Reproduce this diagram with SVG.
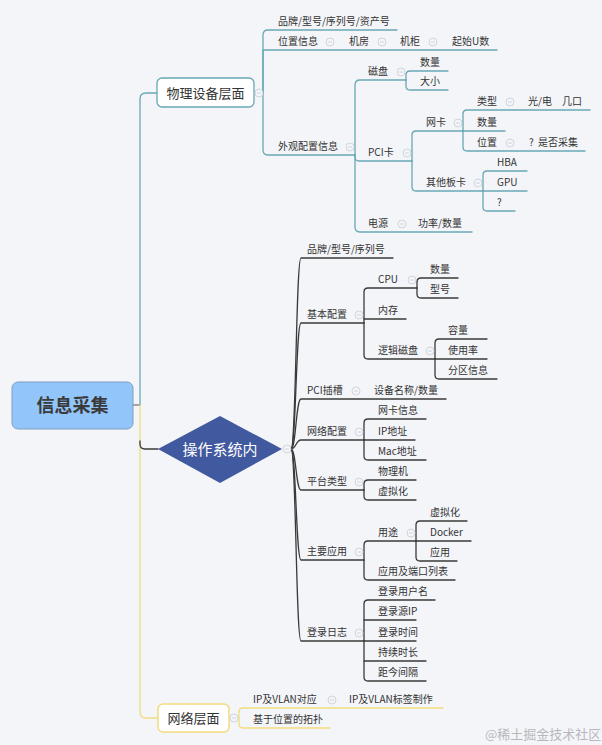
<svg xmlns="http://www.w3.org/2000/svg" xmlns:xlink="http://www.w3.org/1999/xlink" width="602" height="745" viewBox="0 0 602 745">
<defs>
<style>
.t{font-family:"Noto Sans CJK SC","Microsoft YaHei",sans-serif;font-size:10px;fill:#333}
.c{fill:none;stroke-width:1.3;stroke-linecap:round;stroke-linejoin:round}
.teal{stroke:#67a8b5}
.dark{stroke:#3a3a3a}
.yel{stroke:#f1dc7e}
.col circle{fill:#f4f5f9;stroke:#c7ccd6;stroke-width:0.8}
.col path{stroke:#c7ccd6;stroke-width:0.8}
</style>
<g id="cm" class="col"><circle cx="0" cy="0" r="4"/><path d="M-2,0H2"/></g>
</defs>
<rect width="602" height="745" fill="#f4f5f9"/>

<g id="connectors">
<path class="c" stroke="#888" d="M133,405H140"/>
<path class="c teal" d="M140,405V99Q140,93 146,93H157"/>
<path class="c yel" d="M140,405V712Q140,718 146,718H158"/>
<path class="c dark" d="M140,441V444Q140,449 145,449H158"/>
<!-- physical -->
<g class="c teal">
<path d="M263,93V35Q263,30 268,30H397"/>
<path d="M263,93V50H497"/>
<path d="M263,93V150Q263,155 268,155H355"/>
<path d="M355,155V85Q355,80 360,80H406"/>
<path d="M355,155V157Q355,161 359,161H412"/>
<path d="M355,155V227Q355,232 360,232H472"/>
<path d="M406,80V75Q406,71 410,71H448"/>
<path d="M406,80V86Q406,90 410,90H448"/>
<path d="M412,161V135Q412,131 416,131H463"/>
<path d="M412,161V187Q412,191 416,191H483"/>
<path d="M463,131V114Q463,110 467,110H590"/>
<path d="M463,131H505"/>
<path d="M463,131V147Q463,151 467,151H585"/>
<path d="M483,191V175Q483,171 487,171H527"/>
<path d="M483,191H527"/>
<path d="M483,191V207Q483,211 487,211H515"/>
</g>
<!-- os -->
<g class="c dark">
<path d="M291,449C296,449 296,258 301,258H393"/>
<path d="M291,449C296,449 296,323 301,323H364"/>
<path d="M291,449C296,449 296,399 301,399H446"/>
<path d="M291,449C296,449 296,440 301,440H364"/>
<path d="M291,449C296,449 296,490 301,490H364"/>
<path d="M291,449C296,449 296,560 301,560H364"/>
<path d="M291,449C296,449 296,641 301,641H364"/>
<path d="M364,323V292Q364,288 368,288H417"/>
<path d="M364,319H406"/>
<path d="M364,323V355Q364,359 368,359H435"/>
<path d="M417,288V282Q417,278 421,278H458"/>
<path d="M417,288V294Q417,298 421,298H458"/>
<path d="M435,359V343Q435,339 439,339H487"/>
<path d="M435,359H487"/>
<path d="M435,359V375Q435,379 439,379H497"/>
<path d="M364,440V423Q364,419 368,419H426"/>
<path d="M364,440H415"/>
<path d="M364,440V456Q364,460 368,460H426"/>
<path d="M364,490V484Q364,480 368,480H416"/>
<path d="M364,490V496Q364,500 368,500H416"/>
<path d="M364,560V545Q364,541 368,541H416"/>
<path d="M364,560V576Q364,580 368,580H455"/>
<path d="M416,541V525Q416,521 420,521H467"/>
<path d="M416,541H471"/>
<path d="M416,541V557Q416,561 420,561H457"/>
<path d="M364,641V604Q364,600 368,600H435"/>
<path d="M364,620H416"/>
<path d="M364,641H416"/>
<path d="M364,661H426"/>
<path d="M364,641V677Q364,681 368,681H426"/>
</g>
<!-- network -->
<g class="c yel">
<path d="M239,718V712Q239,708 243,708H443"/>
<path d="M239,718V724Q239,728 243,728H330"/>
</g>
</g>

<g id="root">
<rect x="12" y="382" width="121" height="47" rx="6" fill="#92c5f9" stroke="#7f9fc2" stroke-width="1"/>
<text x="72.5" y="412" text-anchor="middle" class="t" style="font-size:18px;font-weight:bold;fill:#3a3a3a">信息采集</text>
</g>

<g id="physical">
<rect x="157" y="78" width="97" height="29" rx="5" fill="#ffffff" stroke="#67a8b5" stroke-width="1.3"/>
<text x="205.5" y="98" text-anchor="middle" class="t" style="font-size:13px">物理设备层面</text>
<use href="#cm" x="259" y="93"/>
</g>
<g id="p-brand"><text x="278" y="25" class="t">品牌/型号/序列号/资产号</text></g>
<g id="p-loc"><text x="278" y="45" class="t">位置信息</text><use href="#cm" x="330" y="42"/></g>
<g id="p-room"><text x="349" y="45" class="t">机房</text><use href="#cm" x="382" y="42"/></g>
<g id="p-rack"><text x="400" y="45" class="t">机柜</text><use href="#cm" x="433" y="42"/></g>
<g id="p-u"><text x="452" y="45" class="t">起始U数</text></g>
<g id="p-look"><text x="278" y="150" class="t">外观配置信息</text><use href="#cm" x="350" y="147"/></g>
<g id="p-disk"><text x="368" y="75" class="t">磁盘</text><use href="#cm" x="401" y="72"/></g>
<g id="p-disk-n"><text x="420" y="66" class="t">数量</text></g>
<g id="p-disk-s"><text x="420" y="85" class="t">大小</text></g>
<g id="p-pci"><text x="368" y="156" class="t">PCI卡</text><use href="#cm" x="407" y="153"/></g>
<g id="p-nic"><text x="426" y="126" class="t">网卡</text><use href="#cm" x="458" y="123"/></g>
<g id="p-nic-type"><text x="477" y="105" class="t">类型</text><use href="#cm" x="510" y="102"/></g>
<g id="p-nic-type-v"><text x="528" y="105" class="t">光/电</text><text x="562" y="105" class="t">几口</text></g>
<g id="p-nic-n"><text x="477" y="126" class="t">数量</text></g>
<g id="p-nic-pos"><text x="477" y="146" class="t">位置</text><use href="#cm" x="510" y="143"/></g>
<g id="p-nic-pos-v"><text x="529" y="146" class="t">?</text><text x="538" y="146" class="t">是否采集</text></g>
<g id="p-other"><text x="426" y="186" class="t">其他板卡</text><use href="#cm" x="478" y="183"/></g>
<g id="p-hba"><text x="497" y="166" class="t">HBA</text></g>
<g id="p-gpu"><text x="497" y="186" class="t">GPU</text></g>
<g id="p-q"><text x="497" y="206" class="t">?</text></g>
<g id="p-power"><text x="368" y="227" class="t">电源</text><use href="#cm" x="402" y="224"/></g>
<g id="p-power-v"><text x="418" y="227" class="t">功率/数量</text></g>

<g id="os">
<polygon points="158,449 220,416 282,449 220,483" fill="#41599e"/>
<text x="220" y="455" text-anchor="middle" class="t" style="font-size:15px;fill:#ffffff">操作系统内</text>
<use href="#cm" x="287" y="449"/>
</g>
<g id="o-brand"><text x="307" y="253" class="t">品牌/型号/序列号</text></g>
<g id="o-basic"><text x="307" y="318" class="t">基本配置</text><use href="#cm" x="359" y="315"/></g>
<g id="o-cpu"><text x="378" y="283" class="t">CPU</text><use href="#cm" x="412" y="280"/></g>
<g id="o-cpu-n"><text x="430" y="273" class="t">数量</text></g>
<g id="o-cpu-m"><text x="430" y="293" class="t">型号</text></g>
<g id="o-mem"><text x="378" y="314" class="t">内存</text></g>
<g id="o-ldisk"><text x="378" y="354" class="t">逻辑磁盘</text><use href="#cm" x="430" y="351"/></g>
<g id="o-cap"><text x="448" y="334" class="t">容量</text></g>
<g id="o-use"><text x="448" y="354" class="t">使用率</text></g>
<g id="o-part"><text x="448" y="374" class="t">分区信息</text></g>
<g id="o-pci"><text x="307" y="394" class="t">PCI插槽</text><use href="#cm" x="356" y="391"/></g>
<g id="o-pci-v"><text x="374" y="394" class="t">设备名称/数量</text></g>
<g id="o-net"><text x="307" y="435" class="t">网络配置</text><use href="#cm" x="359" y="432"/></g>
<g id="o-nic"><text x="378" y="414" class="t">网卡信息</text></g>
<g id="o-ip"><text x="378" y="435" class="t">IP地址</text></g>
<g id="o-mac"><text x="378" y="455" class="t">Mac地址</text></g>
<g id="o-plat"><text x="307" y="485" class="t">平台类型</text><use href="#cm" x="359" y="482"/></g>
<g id="o-phys"><text x="378" y="475" class="t">物理机</text></g>
<g id="o-virt"><text x="378" y="495" class="t">虚拟化</text></g>
<g id="o-app"><text x="307" y="555" class="t">主要应用</text><use href="#cm" x="359" y="552"/></g>
<g id="o-purpose"><text x="378" y="536" class="t">用途</text><use href="#cm" x="411" y="533"/></g>
<g id="o-pv"><text x="430" y="516" class="t">虚拟化</text></g>
<g id="o-docker"><text x="430" y="536" class="t">Docker</text></g>
<g id="o-papp"><text x="430" y="556" class="t">应用</text></g>
<g id="o-ports"><text x="378" y="575" class="t">应用及端口列表</text></g>
<g id="o-log"><text x="307" y="636" class="t">登录日志</text><use href="#cm" x="359" y="633"/></g>
<g id="o-user"><text x="378" y="595" class="t">登录用户名</text></g>
<g id="o-srcip"><text x="378" y="615" class="t">登录源IP</text></g>
<g id="o-time"><text x="378" y="636" class="t">登录时间</text></g>
<g id="o-dur"><text x="378" y="656" class="t">持续时长</text></g>
<g id="o-since"><text x="378" y="676" class="t">距今间隔</text></g>

<g id="network">
<rect x="158" y="704" width="71" height="28" rx="5" fill="#ffffff" stroke="#f1dc7e" stroke-width="1.5"/>
<text x="193.5" y="723" text-anchor="middle" class="t" style="font-size:13px">网络层面</text>
<use href="#cm" x="234" y="718"/>
</g>
<g id="n-vlan"><text x="253" y="703" class="t">IP及VLAN对应</text><use href="#cm" x="332" y="700"/></g>
<g id="n-tag"><text x="349" y="703" class="t">IP及VLAN标签制作</text></g>
<g id="n-topo"><text x="253" y="723" class="t">基于位置的拓扑</text></g>

<text x="485" y="739" class="t" style="font-size:13px;fill:#b8b8bc">@稀土掘金技术社区</text>
</svg>
